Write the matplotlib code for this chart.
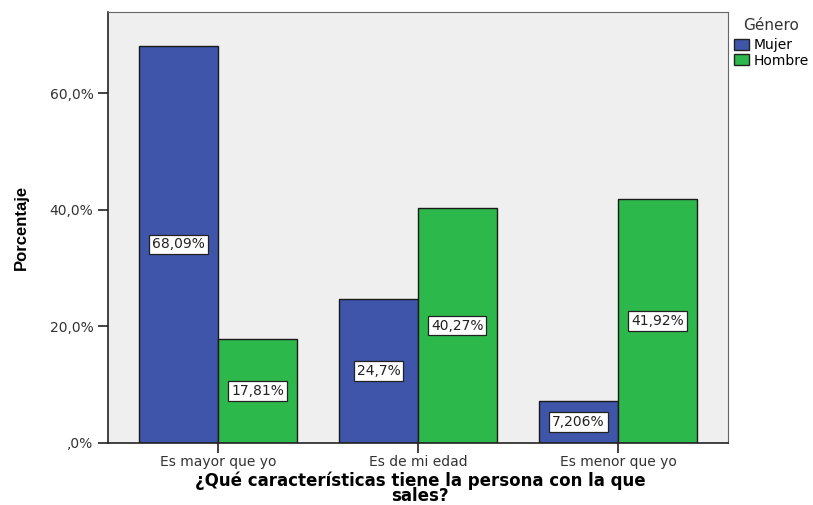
import matplotlib.pyplot as plt
import numpy as np
from matplotlib.patches import Patch

categorias = ['Es mayor que yo', 'Es de mi edad', 'Es menor que yo']
mujer = [68.09, 24.7, 7.206]
hombre = [17.81, 40.27, 41.92]
etiquetas_mujer = ['68,09%', '24,7%', '7,206%']
etiquetas_hombre = ['17,81%', '40,27%', '41,92%']
yticks = [0, 20, 40, 60]
ytick_labels = [',0%', '20,0%', '40,0%', '60,0%']

azul = '#3E55AA'
verde = '#2DB84B'

plt.rcParams['font.family'] = ['DejaVu Sans']

fig = plt.figure(figsize=(8.13, 5.05), dpi=100)
ax = fig.add_axes([0.1328, 0.1228, 0.7626, 0.8534])
ax.set_facecolor('#EFEFEF')

x = np.arange(len(categorias))
w = 0.395
ax.bar(x - w / 2, mujer, w, color=azul, edgecolor='#1a1a1a', linewidth=1)
ax.bar(x + w / 2, hombre, w, color=verde, edgecolor='#1a1a1a', linewidth=1)

caja = dict(boxstyle='square,pad=0.2', facecolor='white', edgecolor='#222222', linewidth=0.9)
for xi, v, t in zip(x - w / 2, mujer, etiquetas_mujer):
    ax.text(xi, v / 2, t, ha='center', va='center', fontsize=10, color='#222222', bbox=caja)
for xi, v, t in zip(x + w / 2, hombre, etiquetas_hombre):
    ax.text(xi, v / 2, t, ha='center', va='center', fontsize=10, color='#222222', bbox=caja)

ax.set_xlim(-0.55, 2.55)
ax.set_ylim(0, 73.9)
ax.set_yticks(yticks)
ax.set_yticklabels(ytick_labels, fontsize=10, color='#333333')
ax.set_xticks(x)
ax.set_xticklabels(categorias, fontsize=10, color='#333333')
ax.tick_params(axis='both', direction='out', length=7, width=1.2, color='#222222')
ax.tick_params(axis='x', pad=1.5)

for s in ['top', 'right']:
    ax.spines[s].set_color('#666666')
for s in ['left', 'bottom']:
    ax.spines[s].set_color('#222222')
    ax.spines[s].set_linewidth(1.2)

ax.set_ylabel('Porcentaje', fontsize=12, fontweight='bold',
              family=['Liberation Sans Narrow', 'Liberation Sans', 'DejaVu Sans'])
ax.yaxis.set_label_coords(-0.128, 0.5)
fig.text(0.5166, 0.067, '¿Qué características tiene la persona con la que\nsales?',
         ha='center', va='top', fontsize=12, fontweight='bold', linespacing=0.82)

leyenda = [Patch(facecolor=azul, edgecolor='#222222', label='Mujer'),
           Patch(facecolor=verde, edgecolor='#222222', label='Hombre')]
leg = ax.legend(handles=leyenda, title='Género', loc='upper left',
                bbox_to_anchor=(1.0, 1.0), frameon=False, fontsize=10,
                title_fontsize=11, handlelength=1.1, handleheight=0.9,
                handletextpad=0.35, labelspacing=0.1, borderaxespad=0.3,
                borderpad=0.1)
leg.get_title().set_color('#333333')
leg._legend_box.sep = 4

fig.savefig('out.png', dpi=100)
